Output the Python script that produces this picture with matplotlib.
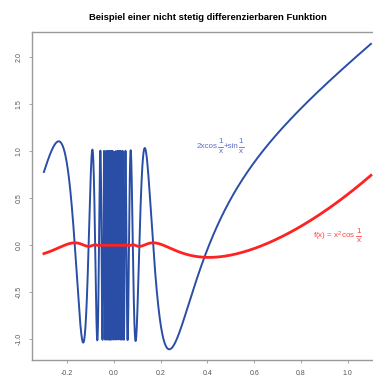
import numpy as np
import matplotlib
matplotlib.use("Agg")
import matplotlib.pyplot as plt
from matplotlib.offsetbox import TextArea, HPacker, VPacker, DrawingArea, AnnotationBbox
from matplotlib.lines import Line2D

plt.rcParams['font.family'] = ['Liberation Sans', 'DejaVu Sans']
plt.rcParams['mathtext.fontset'] = 'custom'
plt.rcParams['mathtext.rm'] = 'Liberation Sans'
plt.rcParams['mathtext.it'] = 'Liberation Sans'
plt.rcParams['mathtext.bf'] = 'Liberation Sans:bold'

# Data: the two curves shown (function and its derivative), sampled as R's curve() does
x_range = [-0.3, 1.1]
n_points = 10001
x_ticks = [-0.2, 0.0, 0.2, 0.4, 0.6, 0.8, 1.0]
y_ticks = [-1.0, -0.5, 0.0, 0.5, 1.0, 1.5, 2.0]
title = "Beispiel einer nicht stetig differenzierbaren Funktion"
# labels as sequences of plain text and (numerator, denominator) fractions
label_df_parts = ["2xcos", ("1", "x"), "+sin", ("1", "x")]
label_f_parts = ["f(x) = x$^2$cos", ("1", "x")]

x = np.linspace(x_range[0], x_range[1], n_points)
with np.errstate(divide='ignore', invalid='ignore'):
    f = x**2 * np.cos(1.0 / x)
    df = 2 * x * np.cos(1.0 / x) + np.sin(1.0 / x)

W, H = 373, 376
fig = plt.figure(figsize=(W / 100, H / 100), dpi=100)
left_px, right_px, top_px, bot_px = 32, 384, 32, 360
ax = fig.add_axes([left_px / W, 1 - bot_px / H, (right_px - left_px) / W, (bot_px - top_px) / H])

blue = '#2a4ea6'
red = '#ff2222'
ax.plot(x, df, color=blue, lw=1.4)
ax.plot(x, f, color=red, lw=2.0)

ax.set_xlim(-0.351, 1.156)
ax.set_ylim(-1.219, 2.267)
ax.set_xticks(x_ticks)
ax.set_xticklabels([f"{v:.1f}" for v in x_ticks])
ax.set_yticks(y_ticks)
ax.set_yticklabels([f"{v:.1f}" for v in y_ticks], rotation=90, va='center')

spine_col = '#999999'
for s in ax.spines.values():
    s.set_color(spine_col)
    s.set_linewidth(1.0)
ax.tick_params(axis='both', colors='#555555', labelsize=5.0, length=2, width=0.6,
               direction='out', pad=5)
ax.tick_params(axis='both', color=spine_col)

ax.set_title(title, fontsize=6.8, fontweight='bold', pad=9)


def make_label(parts, color, fs):
    children = []
    for p in parts:
        if isinstance(p, tuple):
            num = TextArea(p[0], textprops=dict(color=color, fontsize=fs))
            den = TextArea(p[1], textprops=dict(color=color, fontsize=fs))
            w = fs * 0.6
            da = DrawingArea(w, 1.2, 0, 0)
            da.add_artist(Line2D([0, w], [0.6, 0.6], color=color, lw=0.6))
            children.append(VPacker(children=[num, da, den], align='center', pad=0, sep=0.3))
        else:
            children.append(TextArea(p, textprops=dict(color=color, fontsize=fs)))
    return HPacker(children=children, align='center', pad=0, sep=0.4)


ab1 = AnnotationBbox(make_label(label_df_parts, '#5b6fc4', 5.8), (0.454, 1.05),
                     xycoords='data', frameon=False, box_alignment=(0.5, 0.5), pad=0)
ab2 = AnnotationBbox(make_label(label_f_parts, '#ff4040', 5.8), (0.955, 0.10),
                     xycoords='data', frameon=False, box_alignment=(0.5, 0.5), pad=0)
ax.add_artist(ab1)
ax.add_artist(ab2)

fig.savefig('out.png', dpi=100)
